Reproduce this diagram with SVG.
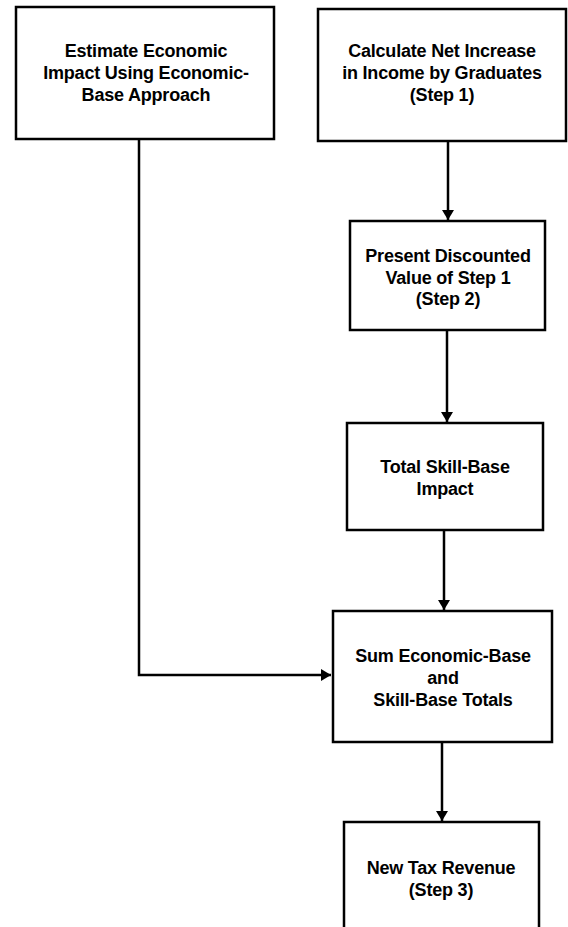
<svg xmlns="http://www.w3.org/2000/svg" width="568" height="927" viewBox="0 0 568 927">
<defs>
<marker id="ah" markerWidth="10" markerHeight="12" refX="10" refY="6" orient="auto" markerUnits="userSpaceOnUse">
<path d="M0,0 L10,6 L0,12 Z" fill="#000"/>
</marker>
<style>
.box{fill:#fff;stroke:#000;stroke-width:2.5}
.t{font-family:"Liberation Sans",Arial,sans-serif;font-weight:bold;font-size:18px;text-anchor:middle;fill:#000;letter-spacing:-0.2px}
.c{fill:none;stroke:#000;stroke-width:2.5}
</style>
</defs>
<rect width="568" height="927" fill="#fff"/>
<g id="connectors">
<path class="c" d="M139,139 V675 H331" marker-end="url(#ah)"/>
<path class="c" d="M448,141 V220" marker-end="url(#ah)"/>
<path class="c" d="M447,330 V422" marker-end="url(#ah)"/>
<path class="c" d="M444,530 V610" marker-end="url(#ah)"/>
<path class="c" d="M442,742 V821" marker-end="url(#ah)"/>
</g>
<g id="n1">
<rect class="box" x="16" y="7" width="258" height="132"/>
<text class="t" x="146" y="57">Estimate Economic</text>
<text class="t" x="146" y="79">Impact Using Economic-</text>
<text class="t" x="146" y="101">Base Approach</text>
</g>
<g id="n2">
<rect class="box" x="318" y="9" width="248" height="132"/>
<text class="t" x="442" y="57">Calculate Net Increase</text>
<text class="t" x="442" y="79">in Income by Graduates</text>
<text class="t" x="442" y="101">(Step 1)</text>
</g>
<g id="n3">
<rect class="box" x="350" y="221" width="195" height="109"/>
<text class="t" x="448" y="262">Present Discounted</text>
<text class="t" x="448" y="284">Value of Step 1</text>
<text class="t" x="448" y="305">(Step 2)</text>
</g>
<g id="n4">
<rect class="box" x="347" y="423" width="196" height="107"/>
<text class="t" x="445" y="473">Total Skill-Base</text>
<text class="t" x="445" y="495">Impact</text>
</g>
<g id="n5">
<rect class="box" x="333" y="611" width="219" height="131"/>
<text class="t" x="443" y="662">Sum Economic-Base</text>
<text class="t" x="443" y="684">and</text>
<text class="t" x="443" y="706">Skill-Base Totals</text>
</g>
<g id="n6">
<rect class="box" x="344" y="822" width="195" height="120"/>
<text class="t" x="441" y="874">New Tax Revenue</text>
<text class="t" x="441" y="896">(Step 3)</text>
</g>
</svg>
